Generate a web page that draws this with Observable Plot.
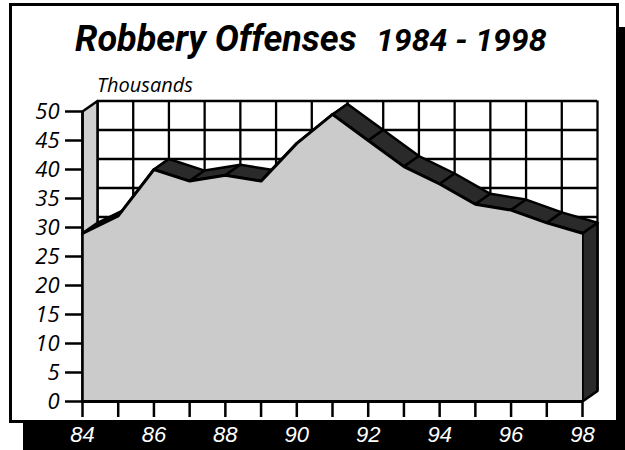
<!DOCTYPE html>
<html>
<head>
<meta charset="utf-8">
<script src="https://cdn.jsdelivr.net/npm/d3@7"></script>
<script src="https://cdn.jsdelivr.net/npm/@observablehq/plot@0.6"></script>
<style>
  body { margin: 0; background: #fff; }
  #wrap { position: relative; width: 625px; height: 450px; overflow: hidden; background: #fff; }
  #shadow { position: absolute; left: 23px; top: 27px; width: 602px; height: 423px; background: #000; }
  #panel { position: absolute; left: 9px; top: 3px; width: 604px; height: 414px; border: 3px solid #000; background: #fff; }
  .t { position: absolute; white-space: nowrap; color: #000; font-family: Roboto, "Open Sans", sans-serif; font-style: italic; font-weight: 700; line-height: 1; }
  #t1 { left: 75px; top: 21px; font-size: 36px; }
  #t2 { left: 376px; top: 24px; font-size: 32px; }
  #units { position: absolute; left: 97px; top: 75px; font-family: "Open Sans", sans-serif; font-style: italic; font-size: 20px; line-height: 1; white-space: nowrap; }
  #chart { position: absolute; left: 0; top: 0; }
</style>
</head>
<body>
<div id="wrap">
  <div id="shadow"></div>
  <div id="panel"></div>
  <div class="t" id="t1">Robbery Offenses</div>
  <div class="t" id="t2">1984 - 1998</div>
  <div id="units">Thousands</div>
  <div id="chart"></div>
</div>
<script>
// ---- data ----
const years = [1984, 1985, 1986, 1987, 1988, 1989, 1990, 1991, 1992, 1993, 1994, 1995, 1996, 1997, 1998];
const offenses = [29, 32, 40, 38, 39, 38, 44.5, 49.5, 45, 40.5, 37.5, 34, 33, 30.8, 29];
const yTicks = [0, 5, 10, 15, 20, 25, 30, 35, 40, 45, 50];
const xLabelYears = [1984, 1986, 1988, 1990, 1992, 1994, 1996, 1998];
const xLabels = ["84", "86", "88", "90", "92", "94", "96", "98"];

// ---- layout ----
const W = 625, H = 450;
const mL = 82, mR = 43, mT = 111, mB = 49;
const yMax = 50;
const DEPTH_X = 15, DEPTH_Y = 10.5; // pixel offset of the back plane
const pxPerYear = (W - mL - mR) / (years[years.length - 1] - years[0]);
const pxPerUnit = (H - mT - mB) / yMax;
const dYear = DEPTH_X / pxPerYear;
const dVal = DEPTH_Y / pxPerUnit;

const rows = years.map((yr, i) => ({year: yr, value: offenses[i]}));
const front = (x, v) => ({x, y: v});
const back = (x, v) => ({x: x + dYear, y: v + dVal});

const ribbons = [];
for (let i = 0; i < rows.length - 1; i++) {
  const a = rows[i], b = rows[i + 1];
  [front(a.year, a.value), front(b.year, b.value), back(b.year, b.value), back(a.year, a.value)]
    .forEach(p => ribbons.push({...p, seg: i}));
}
const x0 = years[0], xn = years[years.length - 1], vn = offenses[offenses.length - 1];
const leftWall = [front(x0, 0), front(x0, yMax), back(x0, yMax), back(x0, 0)];
const rightWall = [front(xn, 0), front(xn, vn), back(xn, vn), back(xn, 0)];

const plot = Plot.plot({
  width: W, height: H,
  marginLeft: mL, marginRight: mR, marginTop: mT, marginBottom: mB,
  x: {domain: [x0, xn], axis: null},
  y: {domain: [0, yMax], axis: null},
  style: {background: "transparent", overflow: "visible", fontFamily: "'Open Sans', sans-serif"},
  marks: [
    // back grid
    Plot.ruleX(years, {y1: 0, y2: yMax, dx: DEPTH_X, dy: -DEPTH_Y, stroke: "#000", strokeWidth: 2.3}),
    Plot.ruleY(yTicks, {x1: x0, x2: xn, dx: DEPTH_X, dy: -DEPTH_Y, stroke: "#000", strokeWidth: 2.3}),
    // left wall
    Plot.line(leftWall, {x: "x", y: "y", curve: "linear-closed", fill: "#cfcfcf", stroke: "#000", strokeWidth: 2.5}),
    // right wall
    Plot.line(rightWall, {x: "x", y: "y", curve: "linear-closed", fill: "#2a2a2a", stroke: "#000", strokeWidth: 2.5}),
    // top ribbon
    Plot.line(ribbons, {x: "x", y: "y", z: "seg", curve: "linear-closed", fill: "#2a2a2a", stroke: "#000", strokeWidth: 2.5, strokeLinejoin: "round"}),
    // front face
    Plot.areaY(rows, {x: "year", y: "value", fill: "#cbcbcb"}),
    Plot.line(rows, {x: "year", y: "value", stroke: "#000", strokeWidth: 3, strokeLinejoin: "round"}),
    Plot.ruleY([0], {x1: x0, x2: xn, stroke: "#000", strokeWidth: 3}),
    Plot.ruleX([x0], {y1: 0, y2: yMax, stroke: "#000", strokeWidth: 2.5}),
    // axes
    Plot.axisY(yTicks, {tickSize: 17, tickPadding: 6, strokeWidth: 2.5, fontSize: 22, fontStyle: "italic", fontFamily: "'Open Sans', sans-serif", fill: "#000", label: null}),
    Plot.axisX(years, {tickSize: 16, strokeWidth: 2.5, tickFormat: () => "", label: null}),
    Plot.axisX(xLabelYears, {tickSize: 0, tickPadding: 25, fill: "#fff", fontSize: 22, fontStyle: "italic", fontFamily: "'Liberation Sans', Arial, sans-serif", tickFormat: d => xLabels[xLabelYears.indexOf(d)], label: null})
  ]
});
document.getElementById("chart").appendChild(plot);
</script>
</body>
</html>
